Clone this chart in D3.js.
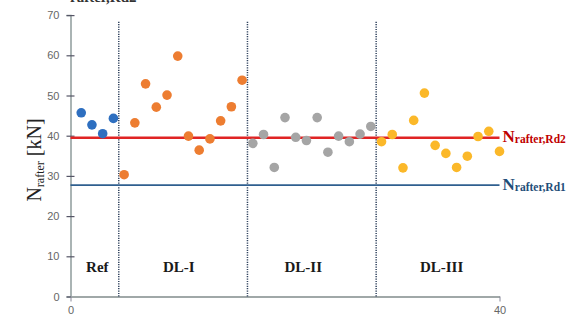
<!DOCTYPE html>
<html>
<head>
<meta charset="utf-8">
<script src="https://cdn.jsdelivr.net/npm/d3@7"></script>
<style>
  body { margin: 0; background: #fff; }
  svg { display: block; }
</style>
</head>
<body>
<svg id="chart" width="571" height="316"></svg>
<script>
// values (kN), one point per test, x = test number
var refVals = [45.7, 42.7, 40.5, 44.3];
var dl1Vals = [30.3, 43.2, 52.9, 47.1, 50.1, 59.8, 39.9, 36.4, 39.2, 43.7, 47.2, 53.8];
var dl2Vals = [38.1, 40.3, 32.1, 44.5, 39.6, 38.8, 44.5, 35.9, 39.9, 38.5, 40.4, 42.3];
var dl3Vals = [38.5, 40.3, 32.0, 43.8, 50.6, 37.6, 35.6, 32.1, 34.9, 39.8, 41.1, 36.1];
var groupNames = ["Ref", "DL-I", "DL-II", "DL-III"];
var groupLabelX = [2.5, 10.1, 21.7, 34.6];
var dividers = [4.5, 16.5, 28.5];
var limitNames = ["Rd2", "Rd1"];
var limitVals = [39.5, 27.7];
var yTicks = [0, 10, 20, 30, 40, 50, 60, 70];
var xTicks = [0, 40];

var colors = ["#2e6fc0", "#ed7d31", "#a5a5a5", "#fbb829"];
var limitColors = ["#e02424", "#2f5f8f"];
var limitTextColors = ["#c00000", "#1f4e79"];

var svg = d3.select("#chart");
var x = d3.scaleLinear().domain([0, 40]).range([70.5, 499.5]);
var y = d3.scaleLinear().domain([0, 70]).range([296.5, 15.1]);

// title remnant, cut off at the top edge as in the source figure
svg.append("text")
	.attr("x", 70).attr("y", 1.5)
	.style("font-family", "Liberation Serif, serif")
	.style("font-weight", "bold")
	.style("font-size", "15px")
	.style("fill", "#333")
	.text("rafter,Rd2");

// y axis
var yAxis = svg.append("g")
	.attr("transform", "translate(" + x(0) + ",0)")
	.call(d3.axisLeft(y).tickValues(yTicks).tickSize(4).tickPadding(7));
yAxis.select(".domain").attr("stroke", "#8e9c9c").attr("stroke-width", 1.5);
yAxis.selectAll(".tick line").attr("x1", 4).attr("stroke", "#556").attr("stroke-width", 1.2);
yAxis.selectAll(".tick text")
	.style("font-family", "Liberation Sans, sans-serif")
	.style("font-size", "11px")
	.style("fill", "#666");

// x axis
var xAxis = svg.append("g")
	.attr("transform", "translate(0," + y(0) + ")")
	.call(d3.axisBottom(x).tickValues(xTicks).tickSize(5).tickPadding(5).tickSizeOuter(0));
xAxis.select(".domain").attr("stroke", "#a0a8a8").attr("stroke-width", 2);
xAxis.selectAll(".tick line").attr("stroke", "#889").attr("stroke-width", 1);
xAxis.selectAll(".tick text")
	.style("font-family", "Liberation Sans, sans-serif")
	.style("font-size", "11px")
	.style("fill", "#666");

// dotted dividers between test series
svg.selectAll(".divider")
	.data(dividers)
	.enter().append("line")
	.attr("class", "divider")
	.attr("x1", function(d){ return x(d); })
	.attr("x2", function(d){ return x(d); })
	.attr("y1", y(0))
	.attr("y2", y(68.4))
	.attr("stroke", "#334560")
	.attr("stroke-width", 1.5)
	.attr("stroke-dasharray", "1.2,1.2");

// design resistance lines
svg.selectAll(".limit")
	.data(limitVals)
	.enter().append("line")
	.attr("class", "limit")
	.attr("x1", x(0))
	.attr("x2", x(40))
	.attr("y1", function(d){ return y(d); })
	.attr("y2", function(d){ return y(d); })
	.attr("stroke", function(d, i){ return limitColors[i]; })
	.attr("stroke-width", function(d, i){ return i == 0 ? 2.6 : 1.8; });

var limitText = svg.selectAll(".limitText")
	.data(limitVals)
	.enter().append("text")
	.attr("class", "limitText")
	.attr("x", x(40) + 3)
	.attr("y", function(d){ return y(d) + 4.5; })
	.style("font-family", "Liberation Serif, serif")
	.style("font-weight", "bold")
	.style("fill", function(d, i){ return limitTextColors[i]; });
limitText.append("tspan").style("font-size", "17px").text("N");
limitText.append("tspan").style("font-size", "11.5px").attr("dy", 1)
	.text(function(d, i){ return "rafter," + limitNames[i]; });

// points
var groups = [refVals, dl1Vals, dl2Vals, dl3Vals];
var start = 1;
for (var g = 0; g < groups.length; g++) {
	var pts = groups[g].map(function(v, i){ return { n: start + i, v: v }; });
	svg.selectAll(".pt" + g)
		.data(pts)
		.enter().append("circle")
		.attr("class", "pt" + g)
		.attr("cx", function(d){ return x(d.n); })
		.attr("cy", function(d){ return y(d.v); })
		.attr("r", 4.8)
		.attr("fill", colors[g]);
	start += groups[g].length;
}

// series labels
svg.selectAll(".grp")
	.data(groupNames)
	.enter().append("text")
	.attr("class", "grp")
	.attr("x", function(d, i){ return x(groupLabelX[i]); })
	.attr("y", y(6.2))
	.attr("text-anchor", "middle")
	.style("font-family", "Liberation Serif, serif")
	.style("font-weight", "bold")
	.style("font-size", "15px")
	.style("fill", "#1a1a1a")
	.text(function(d){ return d; });

// y axis title
var yTitle = svg.append("text")
	.attr("transform", "translate(40.5,160) rotate(-90)")
	.attr("text-anchor", "middle")
	.style("font-family", "Liberation Serif, serif")
	.style("fill", "#222");
yTitle.append("tspan").style("font-size", "20px").text("N");
yTitle.append("tspan").style("font-size", "12px").attr("dy", 3).text("rafter");
yTitle.append("tspan").style("font-size", "20px").attr("dy", -3).text(" [kN]");
</script>
</body>
</html>
